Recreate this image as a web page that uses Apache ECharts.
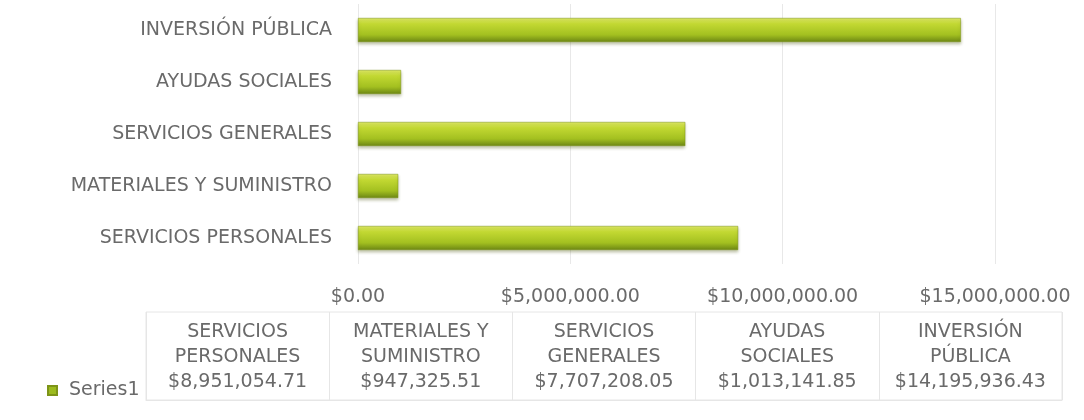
<!DOCTYPE html>
<html>
<head>
<meta charset="utf-8">
<script src="https://cdn.jsdelivr.net/npm/echarts@6/dist/echarts.min.js"></script>
<style>
html,body{margin:0;padding:0;background:#fff;}
#chart{width:1084px;height:420px;}
</style>
</head>
<body>
<div id="chart"></div>
<script>
const categories = ['SERVICIOS PERSONALES', 'MATERIALES Y SUMINISTRO', 'SERVICIOS GENERALES', 'AYUDAS SOCIALES', 'INVERSIÓN PÚBLICA'];
const tableHeaders = ['SERVICIOS\nPERSONALES', 'MATERIALES Y\nSUMINISTRO', 'SERVICIOS\nGENERALES', 'AYUDAS\nSOCIALES', 'INVERSIÓN\nPÚBLICA'];
const values = [8951054.71, 947325.51, 7707208.05, 1013141.85, 14195936.43];
const seriesName = 'Series1';
const axisMin = 0, axisMax = 15000000, axisInterval = 5000000;

const money = v => '$' + Number(v).toLocaleString('en-US', {minimumFractionDigits: 2, maximumFractionDigits: 2});
const FONT = 'DejaVu Sans';
const TXT = '#6a6a6a';
const FS = 19;

const chart = echarts.init(document.getElementById('chart'));
chart.setOption({
  backgroundColor: '#fff',
  animation: false,
  textStyle: {fontFamily: FONT},
  legend: {
    data: [seriesName],
    left: 42, top: 376,
    icon: 'rect', itemWidth: 9, itemHeight: 9, itemGap: 0,
    itemStyle: {color: '#9cbb1e'},
    textStyle: {fontFamily: FONT, fontSize: FS, color: TXT, padding: [0, 0, 0, 7]}
  },
  grid: [
    {left: 358, right: 89, top: 4, height: 260},
    {left: 146, right: 22, top: 312, height: 88, show: true, borderColor: '#e6e6e6', borderWidth: 1}
  ],
  xAxis: [
    {
      gridIndex: 0, type: 'value', min: axisMin, max: axisMax, interval: axisInterval,
      axisLine: {show: false}, axisTick: {show: false},
      splitLine: {show: true, lineStyle: {color: '#e8e8e8', width: 1}},
      axisLabel: {formatter: money, fontFamily: FONT, fontSize: FS, color: TXT, margin: 24}
    },
    {
      gridIndex: 1, type: 'category', data: categories, position: 'top',
      axisLine: {show: true, lineStyle: {color: '#e6e6e6'}}, axisTick: {show: false},
      splitLine: {show: true, interval: 0, lineStyle: {color: '#e6e6e6'}},
      axisLabel: {
        inside: true, interval: 0, margin: 8, verticalAlign: 'top', lineHeight: 25,
        fontFamily: FONT, fontSize: FS, color: TXT, align: 'center',
        formatter: (v, i) => tableHeaders[i] + '\n' + money(values[i])
      }
    }
  ],
  yAxis: [
    {
      gridIndex: 0, type: 'category', data: categories,
      axisLine: {show: false}, axisTick: {show: false}, splitLine: {show: false},
      axisLabel: {fontFamily: FONT, fontSize: FS, color: TXT, margin: 26}
    },
    {gridIndex: 1, type: 'value', show: false, min: 0, max: 1}
  ],
  series: [
    {
      name: seriesName, type: 'bar', xAxisIndex: 0, yAxisIndex: 0,
      data: values, barWidth: 24,
      itemStyle: {
        color: new echarts.graphic.LinearGradient(0, 0, 0, 1, [
          {offset: 0, color: '#e0ea66'},
          {offset: 0.25, color: '#c2d832'},
          {offset: 0.7, color: '#a3c020'},
          {offset: 1, color: '#6c8614'}
        ]),
        borderColor: '#7d9418', borderWidth: 0.5,
        shadowColor: 'rgba(80,90,20,0.35)', shadowBlur: 3, shadowOffsetY: 2
      }
    }
  ]
});
</script>
</body>
</html>
